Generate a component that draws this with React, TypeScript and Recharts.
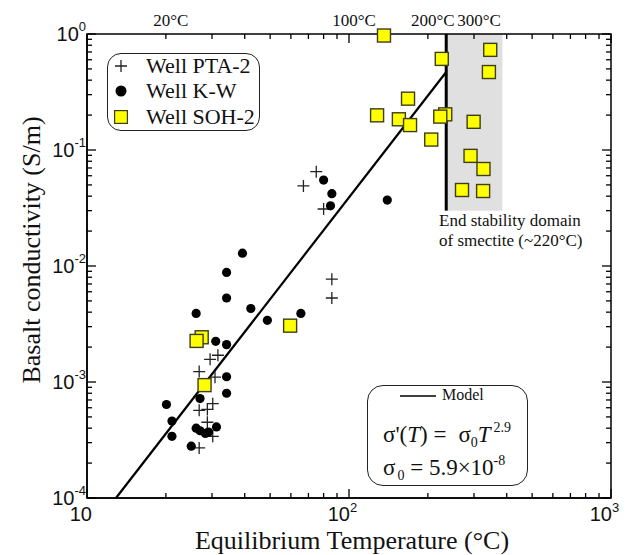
import { ReferenceArea, ReferenceLine, Scatter, ScatterChart, XAxis, YAxis } from "recharts";

type Pt = { t: number; s: number };

// Well PTA-2 (crosses)
const wellPTA2: Pt[] = [
  { t: 75, s: 0.065 },
  { t: 67, s: 0.049 },
  { t: 80, s: 0.031 },
  { t: 86, s: 0.0077 },
  { t: 86, s: 0.0053 },
  { t: 29.5, s: 0.00157 },
  { t: 31.6, s: 0.0017 },
  { t: 26.8, s: 0.00123 },
  { t: 30.8, s: 0.0011 },
  { t: 26.8, s: 0.00057 },
  { t: 28.8, s: 0.00058 },
  { t: 30.2, s: 0.00065 },
  { t: 28.8, s: 0.00045 },
  { t: 30.2, s: 0.00034 },
  { t: 26.8, s: 0.00027 },
];

// Well K-W (filled circles)
const wellKW: Pt[] = [
  { t: 80, s: 0.055 },
  { t: 86, s: 0.042 },
  { t: 85, s: 0.033 },
  { t: 140, s: 0.037 },
  { t: 65.5, s: 0.0039 },
  { t: 39.2, s: 0.0129 },
  { t: 34.1, s: 0.0088 },
  { t: 34.1, s: 0.0053 },
  { t: 26.1, s: 0.0039 },
  { t: 42.2, s: 0.0043 },
  { t: 48.8, s: 0.0034 },
  { t: 31, s: 0.00224 },
  { t: 34.1, s: 0.0021 },
  { t: 34.1, s: 0.00111 },
  { t: 34.1, s: 0.0008 },
  { t: 27, s: 0.00072 },
  { t: 20.1, s: 0.00064 },
  { t: 21.1, s: 0.00046 },
  { t: 21.1, s: 0.00034 },
  { t: 26.1, s: 0.0004 },
  { t: 27, s: 0.00038 },
  { t: 28.3, s: 0.00036 },
  { t: 29.1, s: 0.00037 },
  { t: 31.2, s: 0.00041 },
  { t: 25, s: 0.00028 },
];

// Well SOH-2 (yellow squares)
const wellSOH2: Pt[] = [
  { t: 136, s: 0.97 },
  { t: 226, s: 0.61 },
  { t: 346, s: 0.73 },
  { t: 342, s: 0.47 },
  { t: 168, s: 0.277 },
  { t: 128, s: 0.199 },
  { t: 155, s: 0.184 },
  { t: 171, s: 0.164 },
  { t: 233, s: 0.203 },
  { t: 223, s: 0.194 },
  { t: 206, s: 0.123 },
  { t: 299, s: 0.175 },
  { t: 291, s: 0.089 },
  { t: 326, s: 0.0686 },
  { t: 270, s: 0.0452 },
  { t: 325, s: 0.0443 },
  { t: 27.4, s: 0.00243 },
  { t: 26.2, s: 0.00226 },
  { t: 28.1, s: 0.00094 },
  { t: 59.6, s: 0.00306 },
];

// model line end points
const modelLine: Pt[] = [
  { t: 12.9, s: 0.0001 },
  { t: 235, s: 0.47 },
];

// smectite stability limit and grey domain
const smectiteLimit = 235;
const greyBandEnd = 385;
const bandBottom = 0.03;
const bandTop = 1;

const tempDomain = [10, 1000];
const condDomain = [0.0001, 1];
const tempTicks = [10, 20, 30, 40, 50, 60, 70, 80, 90, 100, 200, 300, 400, 500, 600, 700, 800, 900, 1000];
const condDecades = [-4, -3, -2, -1];
const mantissas = [1, 2, 3, 4, 5, 6, 7, 8, 9];
const condTicks = condDecades
  .flatMap((e) => mantissas.map((m) => Number((m * 10 ** e).toPrecision(3))))
  .concat(1);

const topLabelTemps = [20, 100, 200, 300];
const topLabelTexts = ["20°C", "100°C", "200°C", "300°C"];

// plot box size, used to mirror the ticks on the top and right frame
const PLOT_W = 524;
const PLOT_H = 464;

const SANS = "Liberation Sans, Arimo, Arial, sans-serif";
const SERIF = "Liberation Serif, Tinos, Times New Roman, DejaVu Serif, serif";

const isMajor = (v: number) => {
  const l = Math.log10(v);
  return Math.abs(l - Math.round(l)) < 1e-6;
};

function BottomTick({ x, y, payload }: any) {
  const v = payload.value;
  const major = isMajor(v);
  const len = major ? 9 : 5;
  const e = Math.round(Math.log10(v));
  const top = y - PLOT_H;
  const i = topLabelTemps.indexOf(v);
  return (
    <g>
      <line x1={x} x2={x} y1={y} y2={y - len} stroke="#000" strokeWidth={1.3} />
      <line x1={x} x2={x} y1={top} y2={top + len} stroke="#000" strokeWidth={1.3} />
      {i >= 0 && (
        <text x={x + 5} y={top - 8} textAnchor="middle" style={{ fontFamily: SERIF }} fontSize={17} fill="#111">
          {topLabelTexts[i]}
        </text>
      )}
      {major && e === 1 && (
        <text x={x + 5} y={y + 23} textAnchor="end" style={{ fontFamily: SANS }} fontSize={20} fill="#111">
          10
        </text>
      )}
      {major && e !== 1 && (
        <g>
          <text x={x + 1} y={y + 23} textAnchor="end" style={{ fontFamily: SANS }} fontSize={20} fill="#111">
            10
          </text>
          <text x={x + 1} y={y + 14} textAnchor="start" style={{ fontFamily: SANS }} fontSize={13} fill="#111">
            {e}
          </text>
        </g>
      )}
    </g>
  );
}

function LeftTick({ x, y, payload }: any) {
  const v = payload.value;
  const major = isMajor(v);
  const len = major ? 9 : 5;
  const e = Math.round(Math.log10(v));
  const right = x + PLOT_W;
  return (
    <g>
      <line x1={x} x2={x + len} y1={y} y2={y} stroke="#000" strokeWidth={1.3} />
      <line x1={right} x2={right - len} y1={y} y2={y} stroke="#000" strokeWidth={1.3} />
      {major && (
        <text x={x - 1} y={y + 7} textAnchor="end" style={{ fontFamily: SANS }} fontSize={20} fill="#111">
          <tspan>10</tspan>
          <tspan dy={-10} fontSize={13}>
            {e}
          </tspan>
        </text>
      )}
    </g>
  );
}

const Cross = ({ cx, cy }: any) => (
  <path d={`M${cx - 6},${cy}h12M${cx},${cy - 6}v12`} stroke="#222" strokeWidth={1.3} fill="none" />
);
const Dot = ({ cx, cy }: any) => <circle cx={cx} cy={cy} r={4.6} fill="#000" />;
const Square = ({ cx, cy }: any) => (
  <rect x={cx - 6.5} y={cy - 6.5} width={13} height={13} fill="#ffff00" stroke="#3d3d1a" strokeWidth={1.4} />
);
const NoDot = () => <g />;

export default function App() {
  return (
    <div style={{ position: "relative", width: 616, height: 547, fontFamily: SERIF, color: "#111" }}>
      <ScatterChart width={616} height={547} margin={{ top: 26, right: 13, bottom: 0, left: 0 }}>
        <XAxis
          type="number"
          dataKey="t"
          scale="log"
          domain={tempDomain}
          ticks={tempTicks}
          interval={0}
          height={57}
          tickSize={0}
          tickMargin={0}
          tickLine={false}
          tick={<BottomTick />}
          axisLine={{ stroke: "#000", strokeWidth: 1.5 }}
          label={() => (
            <text x={344} y={541} textAnchor="middle" style={{ fontFamily: SERIF }} fontSize={26} fill="#111">
              Equilibrium Temperature (°C)
            </text>
          )}
        />
        <YAxis
          type="number"
          dataKey="s"
          scale="log"
          domain={condDomain}
          ticks={condTicks}
          interval={0}
          width={79}
          tickSize={0}
          tickMargin={0}
          tickLine={false}
          tick={<LeftTick />}
          axisLine={{ stroke: "#000", strokeWidth: 1.5 }}
          label={() => (
            <text
              x={32}
              y={242}
              transform="rotate(-90 32 242)"
              textAnchor="middle"
              style={{ fontFamily: SERIF }}
              fontSize={26}
              fill="#111"
            >
              Basalt conductivity (S/m)
            </text>
          )}
        />
        <ReferenceArea
          x1={smectiteLimit}
          x2={greyBandEnd}
          y1={bandBottom}
          y2={bandTop}
          fill="#e0e0e0"
          fillOpacity={1}
          stroke="none"
        />
        {/* frame on top and right */}
        <ReferenceArea
          x1={tempDomain[0]}
          x2={tempDomain[1]}
          y1={condDomain[0]}
          y2={condDomain[1]}
          fill="none"
          stroke="#000"
          strokeWidth={1.5}
        />
        <Scatter
          name="Model"
          data={modelLine}
          shape={NoDot}
          line={{ stroke: "#000", strokeWidth: 2.2 }}
          isAnimationActive={false}
        />
        <ReferenceLine
          segment={[
            { x: smectiteLimit, y: bandBottom },
            { x: smectiteLimit, y: bandTop },
          ]}
          stroke="#000"
          strokeWidth={3}
        />
        <Scatter name="Well PTA-2" data={wellPTA2} shape={Cross} isAnimationActive={false} />
        <Scatter name="Well K-W" data={wellKW} shape={Dot} isAnimationActive={false} />
        <Scatter name="Well SOH-2" data={wellSOH2} shape={Square} isAnimationActive={false} />
      </ScatterChart>

      {/* legend box */}
      <div
        style={{
          position: "absolute",
          left: 99,
          top: 45,
          width: 151,
          height: 76,
          border: "1.5px solid #222",
          borderRadius: 14,
          fontSize: 22,
          lineHeight: "24px",
        }}
      >
        {[
          { name: "Well PTA-2", top: 0, sym: <path d="M1,7h12M7,1v12" stroke="#222" strokeWidth={1.3} /> },
          { name: "Well K-W", top: 25, sym: <circle cx={7} cy={7} r={5.5} fill="#000" /> },
          {
            name: "Well SOH-2",
            top: 51,
            sym: <rect x={0.5} y={0.5} width={13} height={13} fill="#ffff00" stroke="#3d3d1a" strokeWidth={1.4} />,
          },
        ].map((r) => (
          <div key={r.name} style={{ position: "absolute", left: 0, top: r.top, height: 24, width: "100%" }}>
            <svg width={14} height={14} style={{ position: "absolute", left: 6, top: 5 }}>
              {r.sym}
            </svg>
            <span style={{ position: "absolute", left: 38, top: 0, whiteSpace: "nowrap" }}>{r.name}</span>
          </div>
        ))}
      </div>

      {/* smectite note */}
      <div style={{ position: "absolute", left: 431, top: 203, fontSize: 17, lineHeight: "20px", whiteSpace: "nowrap" }}>
        End stability domain
        <br />
        of smectite (~220°C)
      </div>

      {/* model box */}
      <div
        style={{
          position: "absolute",
          left: 359,
          top: 377,
          width: 159,
          height: 99,
          border: "1.5px solid #222",
          borderRadius: 16,
        }}
      >
        <svg width={36} height={4} style={{ position: "absolute", left: 32, top: 8 }}>
          <line x1={0} x2={36} y1={2} y2={2} stroke="#000" strokeWidth={1.5} />
        </svg>
        <span style={{ position: "absolute", left: 74, top: -1, fontSize: 16, lineHeight: "20px" }}>Model</span>
        <div style={{ position: "absolute", left: 15, top: 37, fontSize: 23, lineHeight: "24px", whiteSpace: "nowrap" }}>
          σ'(<i>T</i>) =<span style={{ marginLeft: 12 }}>σ</span>
          <span style={{ fontSize: 14, position: "relative", top: 5 }}>0</span>
          <i>T</i>
          <span style={{ fontSize: 14, position: "relative", top: -10, marginLeft: 3 }}>2.9</span>
        </div>
        <div style={{ position: "absolute", left: 15, top: 70, fontSize: 23, lineHeight: "24px", whiteSpace: "nowrap" }}>
          σ<span style={{ fontSize: 14, position: "relative", top: 5, marginLeft: 2 }}>0</span> = 5.9×10
          <span style={{ fontSize: 14, position: "relative", top: -10 }}>-8</span>
        </div>
      </div>
    </div>
  );
}
